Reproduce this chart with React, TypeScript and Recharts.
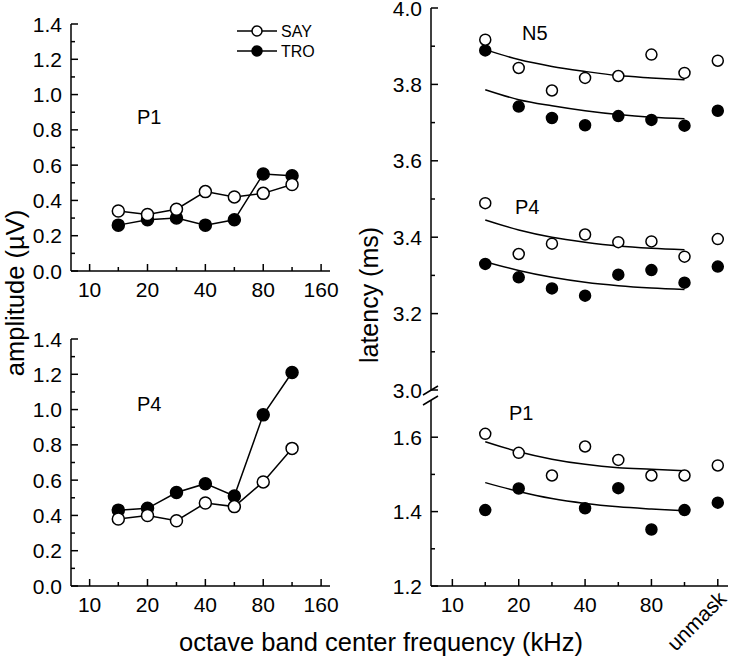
import React from 'react';
import { LineChart, Line, XAxis, YAxis } from 'recharts';

const FONT = '"Liberation Sans", Arial, Helvetica, sans-serif';

// half-octave band centres (kHz); "unmask" sits on the 160 position
const freqs = [14.1, 20, 28.3, 40, 56.6, 80, 113];
const unmaskPos = 160;
const xTicks = [10, 14.1, 20, 28.3, 40, 56.6, 80, 113, 160];
const ampXLabels: Record<number, string> = { 10: '10', 20: '20', 40: '40', 80: '80', 160: '160' };
const latXLabels: Record<number, string> = { 10: '10', 20: '20', 40: '40', 80: '80', 160: 'unmask' };

const ampTicks = [0, 0.1, 0.2, 0.3, 0.4, 0.5, 0.6, 0.7, 0.8, 0.9, 1.0, 1.1, 1.2, 1.3, 1.4];
const latUpperTicks = [3.0, 3.1, 3.2, 3.3, 3.4, 3.5, 3.6, 3.7, 3.8, 3.9, 4.0];
const latLowerTicks = [1.2, 1.3, 1.4, 1.5, 1.6];

// amplitude (uV)
const p1AmpSay = [0.34, 0.32, 0.35, 0.45, 0.42, 0.44, 0.49];
const p1AmpTro = [0.26, 0.29, 0.3, 0.26, 0.29, 0.55, 0.54];
const p4AmpSay = [0.38, 0.4, 0.37, 0.47, 0.45, 0.59, 0.78];
const p4AmpTro = [0.43, 0.44, 0.53, 0.58, 0.51, 0.97, 1.21];

// latency (ms), last value is the unmasked condition
const n5LatSay = [3.917, 3.843, 3.784, 3.817, 3.822, 3.878, 3.83, 3.862];
const n5LatTro = [3.889, 3.742, 3.712, 3.693, 3.717, 3.707, 3.692, 3.731];
const p4LatSay = [3.489, 3.356, 3.383, 3.407, 3.387, 3.389, 3.349, 3.395];
const p4LatTro = [3.33, 3.295, 3.266, 3.247, 3.302, 3.314, 3.281, 3.323];
const p1LatSay = [1.609, 1.558, 1.497, 1.575, 1.539, 1.497, 1.497, 1.524];
const p1LatTro = [1.404, 1.462, null, 1.409, 1.463, 1.352, 1.404, 1.424];

// fitted curves (masked bands only)
const n5FitSay = [3.891, 3.865, 3.847, 3.834, 3.823, 3.817, 3.812];
const n5FitTro = [3.786, 3.76, 3.744, 3.731, 3.721, 3.714, 3.71];
const p4FitSay = [3.445, 3.419, 3.4, 3.387, 3.377, 3.371, 3.367];
const p4FitTro = [3.336, 3.313, 3.295, 3.282, 3.273, 3.267, 3.263];
const p1FitSay = [1.588, 1.561, 1.541, 1.527, 1.518, 1.514, 1.51];
const p1FitTro = [1.478, 1.454, 1.435, 1.422, 1.413, 1.407, 1.402];

const allPos = [...freqs, unmaskPos];

const p1AmpRows = freqs.map((f, i) => ({ f, say: p1AmpSay[i], tro: p1AmpTro[i] }));
const p4AmpRows = freqs.map((f, i) => ({ f, say: p4AmpSay[i], tro: p4AmpTro[i] }));

const upperRows = allPos.map((f, i) => ({
  f,
  n5Say: n5LatSay[i],
  n5Tro: n5LatTro[i],
  p4Say: p4LatSay[i],
  p4Tro: p4LatTro[i],
  n5SayFit: n5FitSay[i] ?? null,
  n5TroFit: n5FitTro[i] ?? null,
  p4SayFit: p4FitSay[i] ?? null,
  p4TroFit: p4FitTro[i] ?? null,
}));

const lowerRows = allPos.map((f, i) => ({
  f,
  p1Say: p1LatSay[i],
  p1Tro: p1LatTro[i],
  p1SayFit: p1FitSay[i] ?? null,
  p1TroFit: p1FitTro[i] ?? null,
}));

const XDOMAIN: [number, number] = [8, 178];
const axisLine = { stroke: '#000', strokeWidth: 1.5 };
const TICK_FS = 21;

const YTick = (props: any) => {
  const { x, y, payload } = props;
  const v = payload.value as number;
  const major = Math.round(v * 10) % 2 === 0;
  return (
    <g>
      <line x1={x} x2={x + (major ? 7 : 4)} y1={y} y2={y} stroke="#000" strokeWidth={1.5} />
      {major && (
        <text x={x - 9} y={y} dy="0.36em" textAnchor="end" fontSize={TICK_FS} fontFamily={FONT} fill="#000">
          {v.toFixed(1)}
        </text>
      )}
    </g>
  );
};

const makeXTick = (labels: Record<number, string>) => (props: any) => {
  const { x, y, payload } = props;
  const lab = labels[payload.value];
  return (
    <g>
      <line x1={x} x2={x} y1={y} y2={y - (lab ? 7 : 4)} stroke="#000" strokeWidth={1.5} />
      {lab === 'unmask' ? (
        <text
          x={x + 10}
          y={y + 14}
          transform={`rotate(-45 ${x + 10} ${y + 14})`}
          textAnchor="end"
          fontSize={TICK_FS}
          fontFamily={FONT}
          fill="#000"
        >
          {lab}
        </text>
      ) : lab ? (
        <text x={x} y={y + 26} textAnchor="middle" fontSize={TICK_FS} fontFamily={FONT} fill="#000">
          {lab}
        </text>
      ) : null}
    </g>
  );
};

const dot = (filled: boolean, r: number) => (p: any) => {
  if (p.cx == null || p.cy == null || p.value == null) return <g key={p.key ?? p.index} />;
  return (
    <circle
      key={p.key ?? p.index}
      cx={p.cx}
      cy={p.cy}
      r={r}
      fill={filled ? '#000' : '#fff'}
      stroke="#000"
      strokeWidth={1.5}
    />
  );
};

const AmpPanel = ({ rows }: { rows: any[] }) => (
  <LineChart width={340} height={300} data={rows} margin={{ top: 24, right: 10, left: 0, bottom: 0 }}>
    <XAxis
      dataKey="f"
      type="number"
      scale="log"
      domain={XDOMAIN}
      allowDataOverflow
      ticks={xTicks}
      interval={0}
      height={29}
      tickSize={0}
      tickMargin={0}
      tickLine={false}
      axisLine={axisLine}
      tick={makeXTick(ampXLabels)}
    />
    <YAxis
      type="number"
      domain={[0, 1.4]}
      ticks={ampTicks}
      interval={0}
      width={71}
      tickSize={0}
      tickMargin={0}
      tickLine={false}
      axisLine={axisLine}
      tick={YTick}
    />
    <Line dataKey="tro" type="linear" stroke="#000" strokeWidth={1.5} dot={dot(true, 6)} activeDot={false} isAnimationActive={false} />
    <Line dataKey="say" type="linear" stroke="#000" strokeWidth={1.5} dot={dot(false, 6)} activeDot={false} isAnimationActive={false} />
  </LineChart>
);

const fitLine = (key: string) => (
  <Line
    key={key}
    dataKey={key}
    type="monotone"
    stroke="#000"
    strokeWidth={1.5}
    dot={false}
    activeDot={false}
    isAnimationActive={false}
  />
);

const pointLine = (key: string, filled: boolean) => (
  <Line
    key={key}
    dataKey={key}
    stroke="none"
    dot={dot(filled, 5.5)}
    activeDot={false}
    isAnimationActive={false}
  />
);

export default function App() {
  const txt = { fontFamily: FONT, fill: '#000' };
  return (
    <div style={{ position: 'absolute', left: 0, top: 0, width: 734, height: 657, background: '#fff', overflow: 'hidden' }}>
      <div style={{ position: 'absolute', left: 0, top: 0 }}>
        <AmpPanel rows={p1AmpRows} />
      </div>
      <div style={{ position: 'absolute', left: 0, top: 315 }}>
        <AmpPanel rows={p4AmpRows} />
      </div>

      <div style={{ position: 'absolute', left: 360, top: -12 }}>
        <LineChart width={374} height={426} data={upperRows} margin={{ top: 20, right: 6, left: 0, bottom: 24 }}>
          <XAxis dataKey="f" type="number" scale="log" domain={XDOMAIN} allowDataOverflow hide />
          <YAxis
            type="number"
            domain={[3, 4]}
            ticks={latUpperTicks}
            interval={0}
            width={71}
            tickSize={0}
            tickMargin={0}
            tickLine={false}
            axisLine={axisLine}
            tick={YTick}
          />
          {fitLine('n5SayFit')}
          {fitLine('n5TroFit')}
          {fitLine('p4SayFit')}
          {fitLine('p4TroFit')}
          {pointLine('n5Tro', true)}
          {pointLine('n5Say', false)}
          {pointLine('p4Tro', true)}
          {pointLine('p4Say', false)}
        </LineChart>
      </div>

      <div style={{ position: 'absolute', left: 360, top: 390 }}>
        <LineChart width={374} height={266} data={lowerRows} margin={{ top: 10, right: 6, left: 0, bottom: 0 }}>
          <XAxis
            dataKey="f"
            type="number"
            scale="log"
            domain={XDOMAIN}
            allowDataOverflow
            ticks={xTicks}
            interval={0}
            height={70}
            tickSize={0}
            tickMargin={0}
            tickLine={false}
            axisLine={axisLine}
            tick={makeXTick(latXLabels)}
          />
          <YAxis
            type="number"
            domain={[1.2, 1.7]}
            ticks={latLowerTicks}
            interval={0}
            width={71}
            tickSize={0}
            tickMargin={0}
            tickLine={false}
            axisLine={axisLine}
            tick={YTick}
          />
          {fitLine('p1SayFit')}
          {fitLine('p1TroFit')}
          {pointLine('p1Tro', true)}
          {pointLine('p1Say', false)}
        </LineChart>
      </div>

      <svg
        width={734}
        height={657}
        style={{ position: 'absolute', left: 0, top: 0, pointerEvents: 'none' }}
      >
        {/* axis break */}
        <line x1={423} y1={395} x2={438} y2={386} stroke="#000" strokeWidth={1.5} />
        <line x1={423} y1={405} x2={438} y2={396} stroke="#000" strokeWidth={1.5} />

        {/* legend */}
        <line x1={237} x2={277} y1={31} y2={31} stroke="#000" strokeWidth={1.5} />
        <circle cx={257} cy={31} r={5} fill="#fff" stroke="#000" strokeWidth={1.5} />
        <text x={281} y={37} fontSize={16} {...txt}>SAY</text>
        <line x1={237} x2={277} y1={51} y2={51} stroke="#000" strokeWidth={1.5} />
        <circle cx={257} cy={51} r={5} fill="#000" stroke="#000" strokeWidth={1.5} />
        <text x={281} y={57} fontSize={16} {...txt}>TRO</text>

        {/* panel labels */}
        <text x={137} y={124} fontSize={20} {...txt}>P1</text>
        <text x={137} y={411} fontSize={20} {...txt}>P4</text>
        <text x={522} y={40} fontSize={20} {...txt}>N5</text>
        <text x={515} y={214} fontSize={20} {...txt}>P4</text>
        <text x={509} y={420} fontSize={20} {...txt}>P1</text>

        {/* axis titles */}
        <text x={24} y={293} transform="rotate(-90 24 293)" textAnchor="middle" fontSize={25.5} {...txt}>
          amplitude (µV)
        </text>
        <text x={378} y={295} transform="rotate(-90 378 295)" textAnchor="middle" fontSize={25} {...txt}>
          latency (ms)
        </text>
        <text x={381} y={651} textAnchor="middle" fontSize={25.5} {...txt}>
          octave band center frequency (kHz)
        </text>
      </svg>
    </div>
  );
}
